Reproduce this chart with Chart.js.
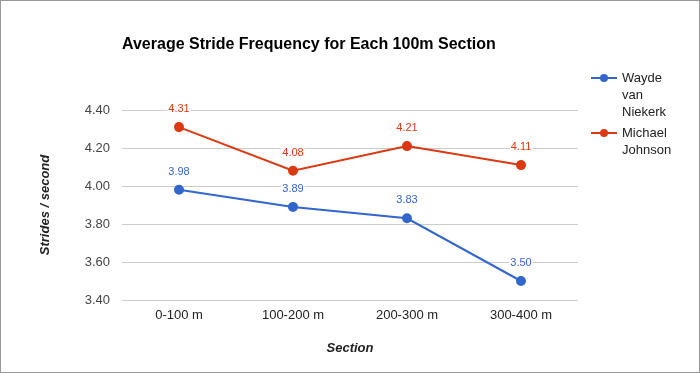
<!DOCTYPE html>
<html>
<head>
<meta charset="utf-8">
<script src="https://cdn.jsdelivr.net/npm/chart.js@4/dist/chart.umd.min.js"></script>
<style>
  html, body { margin: 0; padding: 0; background: #fff; }
  canvas { display: block; }
</style>
</head>
<body>
<canvas id="strides" width="700" height="373"></canvas>
<script>
const sections = ['0-100 m', '100-200 m', '200-300 m', '300-400 m'];
const wayde = [3.98, 3.89, 3.83, 3.50];
const michael = [4.31, 4.08, 4.21, 4.11];
const yTicks = [3.40, 3.60, 3.80, 4.00, 4.20, 4.40];

const FONT = '"Liberation Sans", Arial, sans-serif';

// titles, legend, point labels and the frame
const extras = {
  id: 'extras',
  afterDatasetsDraw(chart) {
    const ctx = chart.ctx;
    const area = chart.chartArea;
    ctx.save();

    // point labels with white boxes
    ctx.font = '11px ' + FONT;
    ctx.textAlign = 'center';
    ctx.textBaseline = 'middle';
    chart.data.datasets.forEach((ds, i) => {
      chart.getDatasetMeta(i).data.forEach((pt, j) => {
        const txt = ds.data[j].toFixed(2);
        const w = ctx.measureText(txt).width;
        const y = pt.y - 18;
        ctx.fillStyle = '#fff';
        ctx.fillRect(pt.x - w / 2 - 1, y - 6, w + 2, 12);
        ctx.fillStyle = ds.borderColor;
        ctx.fillText(txt, pt.x, y);
      });
    });

    // title
    ctx.fillStyle = '#000';
    ctx.textAlign = 'left';
    ctx.font = 'bold 16px ' + FONT;
    ctx.fillText('Average Stride Frequency for Each 100m Section', area.left, 45);

    // axis titles
    ctx.fillStyle = '#222';
    ctx.font = 'italic bold 13px ' + FONT;
    ctx.textAlign = 'center';
    ctx.fillText('Section', (area.left + area.right) / 2, 348);
    ctx.save();
    ctx.translate(45, (area.top + area.bottom) / 2);
    ctx.rotate(-Math.PI / 2);
    ctx.fillText('Strides / second', 0, 0);
    ctx.restore();

    // legend with wrapped names
    ctx.font = '13px ' + FONT;
    ctx.textAlign = 'left';
    let y = 78;
    chart.data.datasets.forEach(ds => {
      ctx.strokeStyle = ds.borderColor;
      ctx.lineWidth = 2;
      ctx.beginPath();
      ctx.moveTo(591, y);
      ctx.lineTo(617, y);
      ctx.stroke();
      ctx.fillStyle = ds.borderColor;
      ctx.beginPath();
      ctx.arc(604, y, 4, 0, Math.PI * 2);
      ctx.fill();
      const lines = [];
      let cur = '';
      ds.label.split(' ').forEach(word => {
        const test = cur ? cur + ' ' + word : word;
        if (cur && ctx.measureText(test).width > 60) {
          lines.push(cur);
          cur = word;
        } else {
          cur = test;
        }
      });
      lines.push(cur);
      ctx.fillStyle = '#222';
      lines.forEach((line, k) => ctx.fillText(line, 622, y + k * 17));
      y += lines.length * 17 + 4;
    });

    // frame
    ctx.strokeStyle = '#999';
    ctx.lineWidth = 1;
    ctx.strokeRect(0.5, 0.5, chart.width - 1, chart.height - 1);
    ctx.restore();
  }
};

new Chart(document.getElementById('strides'), {
  type: 'line',
  data: {
    labels: sections,
    datasets: [
      {
        label: 'Wayde van Niekerk',
        data: wayde,
        borderColor: '#3366cc',
        backgroundColor: '#3366cc',
        borderWidth: 2,
        pointRadius: 4,
        pointHoverRadius: 4,
        tension: 0
      },
      {
        label: 'Michael Johnson',
        data: michael,
        borderColor: '#dc3912',
        backgroundColor: '#dc3912',
        borderWidth: 2,
        pointRadius: 4,
        pointHoverRadius: 4,
        tension: 0
      }
    ]
  },
  options: {
    responsive: false,
    animation: false,
    layout: { padding: { left: 0, top: 110, right: 122, bottom: 0 } },
    plugins: {
      legend: { display: false },
      title: { display: false },
      tooltip: { enabled: false }
    },
    scales: {
      x: {
        offset: true,
        grid: { display: false, drawTicks: false },
        border: { display: false },
        ticks: { color: '#222', font: { family: FONT, size: 13 }, padding: 8 },
        afterFit: s => { s.height = 73; }
      },
      y: {
        min: yTicks[0],
        max: yTicks[yTicks.length - 1],
        afterBuildTicks: s => { s.ticks = yTicks.map(v => ({ value: v })); },
        grid: { color: '#cccccc', drawTicks: false },
        border: { display: false },
        ticks: {
          color: '#444',
          font: { family: FONT, size: 13 },
          padding: 12,
          callback: v => Number(v).toFixed(2)
        },
        afterFit: s => { s.width = 122; }
      }
    }
  },
  plugins: [extras]
});
</script>
</body>
</html>
